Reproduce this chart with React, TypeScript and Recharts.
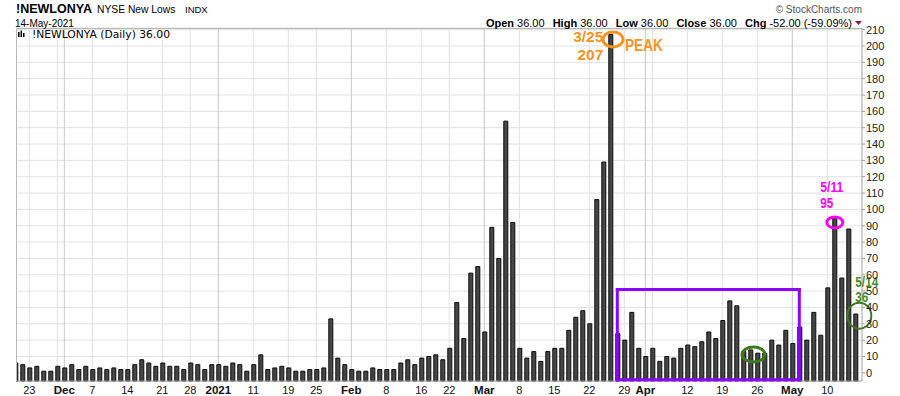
import React from 'react'
import { BarChart, Bar, XAxis, YAxis, CartesianGrid, ReferenceLine, ReferenceDot } from 'recharts'

// trading days per month, Nov 2020 .. May 2021
const novDays = [19, 20, 23, 24, 25, 27, 30]
const decDays = [1, 2, 3, 4, 7, 8, 9, 10, 11, 14, 15, 16, 17, 18, 21, 22, 23, 24, 28, 29, 30, 31]
const janDays = [4, 5, 6, 7, 8, 11, 12, 13, 14, 15, 19, 20, 21, 22, 25, 26, 27, 28, 29]
const febDays = [1, 2, 3, 4, 5, 8, 9, 10, 11, 12, 16, 17, 18, 19, 22, 23, 24, 25, 26]
const marDays = [1, 2, 3, 4, 5, 8, 9, 10, 11, 12, 15, 16, 17, 18, 19, 22, 23, 24, 25, 26, 29, 30, 31]
const aprDays = [1, 5, 6, 7, 8, 9, 12, 13, 14, 15, 16, 19, 20, 21, 22, 23, 26, 27, 28, 29, 30]
const mayDays = [3, 4, 5, 6, 7, 10, 11, 12, 13, 14]

// NYSE new lows, one value per trading day
const newLows = [
  6, 5, 3, 4, 1, 1, 4,
  3, 5, 2, 4, 2, 3, 2, 3, 2, 2, 5, 8, 6, 4, 6, 4, 4, 2, 6, 5, 2, 5,
  5, 4, 6, 5, 1, 5, 11, 2, 3, 4, 3, 1, 1, 2, 2, 3, 33, 9, 5,
  2, 1, 1, 3, 2, 2, 2, 6, 8, 5, 9, 10, 11, 8, 15, 43, 21, 61, 65,
  25, 89, 70, 154, 92, 15, 9, 13, 7, 13, 15, 15, 26, 34, 38, 30, 106, 129, 207, 24, 20, 37, 15,
  10, 15, 7, 10, 9, 15, 17, 16, 19, 25, 21, 32, 44, 41, 13, 14, 12, 12, 20, 17, 26,
  18, 28, 20, 37, 23, 52, 95, 58, 88, 36,
]

const tickDays = ['11/23', '12/1', '12/7', '12/14', '12/21', '12/28', '1/4', '1/11', '1/19', '1/25', '2/1', '2/8', '2/16', '2/22', '3/1', '3/8', '3/15', '3/22', '3/29', '4/1', '4/12', '4/19', '4/26', '5/3', '5/10']
const tickText = ['23', 'Dec', '7', '14', '21', '28', '2021', '11', '19', '25', 'Feb', '8', '16', '22', 'Mar', '8', '15', '22', '29', 'Apr', '12', '19', '26', 'May', '10']
const boldTicks = ['Dec', '2021', 'Feb', 'Mar', 'Apr', 'May']

const weekLines = ['11/23', '11/30', '12/7', '12/14', '12/21', '12/28', '1/11', '1/19', '1/25', '2/8', '2/16', '2/22', '3/8', '3/15', '3/22', '3/29', '4/5', '4/12', '4/19', '4/26', '5/10']
const monthLines = ['12/1', '1/4', '2/1', '3/1', '4/1', '5/3']

const yTicks = [0, 10, 20, 30, 40, 50, 60, 70, 80, 90, 100, 110, 120, 130, 140, 150, 160, 170, 180, 190, 200, 210]
const Y_MIN = -5
const Y_MAX = 211

const months: [number, number[]][] = [
  [11, novDays], [12, decDays], [1, janDays], [2, febDays], [3, marDays], [4, aprDays], [5, mayDays],
]
const days = months.flatMap(([m, ds]) => ds.map((d) => `${m}/${d}`))
const rows = days.map((day, i) => ({ day, v: newLows[i], range: [Y_MIN, newLows[i]] }))

// annotation box (purple)
const boxFrom = '3/26'
const boxTo = '5/4'
const boxTop = 51
const boxBottom = -4.3

const ORANGE = '#f7941d'
const PURPLE = '#9000ff'
const MAGENTA = '#ff00ff'
const GREEN = '#4e8a2e'
const GREEN_DARK = '#3c7a20'

function DayTick(props: any) {
  const { x, y, payload } = props
  const label = tickText[tickDays.indexOf(payload.value)]
  const bold = boldTicks.includes(label)
  return (
    <text x={x} y={y + 11} textAnchor="middle" fontSize={bold ? 11.5 : 11} fontWeight={bold ? 700 : 400} fill="#111">
      {label}
    </text>
  )
}

const boldNarrow = { fontWeight: 700, fontSize: 15, fontFamily: '"Liberation Sans Narrow", "Liberation Sans", Arial, sans-serif' }

export default function App() {
  return (
    <div style={{ position: 'absolute', left: 0, top: 0, width: 900, height: 396, background: '#fff', fontFamily: '"Liberation Sans", Arial, sans-serif' }}>
      <BarChart width={900} height={396} data={rows} margin={{ top: 28, right: 0, bottom: 0, left: 16 }} barCategoryGap={0}>
        <CartesianGrid vertical={false} stroke="#e2e2e2" />
        {weekLines.map((d) => (
          <ReferenceLine key={'w' + d} x={d} stroke="#e2e2e2" zIndex={-10} />
        ))}
        {monthLines.map((d) => (
          <ReferenceLine key={'m' + d} x={d} stroke="#c6c6c6" zIndex={-10} />
        ))}
        <XAxis
          dataKey="day"
          ticks={tickDays}
          interval={0}
          tickLine={false}
          tickSize={0}
          axisLine={{ stroke: '#a0a0a0' }}
          height={15}
          padding={{ left: -4.2, right: 3.2 }}
          tick={<DayTick />}
        />
        <YAxis
          orientation="right"
          domain={[Y_MIN, Y_MAX]}
          ticks={yTicks}
          interval={0}
          width={38}
          tickSize={3}
          tickMargin={1}
          axisLine={{ stroke: '#a0a0a0' }}
          tickLine={{ stroke: '#a0a0a0' }}
          tick={{ fontSize: 11, fill: '#222', textAnchor: 'start' }}
        />
        <Bar dataKey="range" barSize={4} fill="#464646" stroke="#0a0a0a" strokeWidth={1} isAnimationActive={false} />

        {/* purple box */}
        <ReferenceLine segment={[{ x: boxFrom, y: boxTop }, { x: boxTo, y: boxTop }]} stroke={PURPLE} strokeWidth={3} strokeLinecap="square" zIndex={1500} />
        <ReferenceLine segment={[{ x: boxFrom, y: boxBottom }, { x: boxTo, y: boxBottom }]} stroke={PURPLE} strokeWidth={3} strokeLinecap="square" zIndex={1500} />
        <ReferenceLine segment={[{ x: boxFrom, y: boxBottom }, { x: boxFrom, y: boxTop }]} stroke={PURPLE} strokeWidth={3} strokeLinecap="square" zIndex={1500} />
        <ReferenceLine segment={[{ x: boxTo, y: boxBottom }, { x: boxTo, y: boxTop }]} stroke={PURPLE} strokeWidth={3} strokeLinecap="square" zIndex={1500} />

        {/* peak 3/25 */}
        <ReferenceDot
          x="3/25"
          y={204}
          zIndex={1600}
          shape={(p: any) => (
            <g>
              <ellipse cx={p.cx + 2.7} cy={p.cy} rx={10} ry={7.5} fill="none" stroke={ORANGE} strokeWidth={3} />
              <text x={p.cx - 7} y={p.cy + 2.5} textAnchor="end" fill={ORANGE} fontWeight={700} fontSize={15.5}>3/25</text>
              <text x={p.cx - 7} y={p.cy + 20.5} textAnchor="end" fill={ORANGE} fontWeight={700} fontSize={15.5}>207</text>
              <text x={p.cx + 14.7} y={p.cy + 11.5} fill={ORANGE} fontWeight={700} fontSize={17} textLength={38} lengthAdjust="spacingAndGlyphs">PEAK</text>
            </g>
          )}
        />
        {/* 5/11 */}
        <ReferenceDot
          x="5/11"
          y={92}
          zIndex={1600}
          shape={(p: any) => (
            <g>
              <ellipse cx={p.cx + 0.5} cy={p.cy} rx={8} ry={5.5} fill="none" stroke={MAGENTA} strokeWidth={3} />
              <text x={p.cx - 14} y={p.cy - 30.5} fill={MAGENTA} style={boldNarrow} textLength={23} lengthAdjust="spacingAndGlyphs">5/11</text>
              <text x={p.cx - 14} y={p.cy - 14.5} fill={MAGENTA} style={boldNarrow} textLength={13} lengthAdjust="spacingAndGlyphs">95</text>
            </g>
          )}
        />
        {/* 5/14 */}
        <ReferenceDot
          x="5/14"
          y={35}
          zIndex={1600}
          shape={(p: any) => (
            <g>
              <ellipse cx={p.cx + 4} cy={p.cy} rx={12} ry={13} fill="none" stroke={GREEN_DARK} strokeWidth={2} />
              <text x={p.cx} y={p.cy - 28.6} fill={GREEN} style={boldNarrow} textLength={23} lengthAdjust="spacingAndGlyphs">5/14</text>
              <text x={p.cx} y={p.cy - 13.6} fill={GREEN} style={boldNarrow} textLength={13} lengthAdjust="spacingAndGlyphs">36</text>
            </g>
          )}
        />
        {/* April low */}
        <ReferenceDot
          x="4/23"
          y={11.2}
          zIndex={1600}
          shape={(p: any) => (
            <ellipse cx={p.cx + 3.2} cy={p.cy} rx={11.5} ry={7.5} fill="none" stroke={GREEN_DARK} strokeWidth={3} />
          )}
        />
      </BarChart>

      <svg width={900} height={396} style={{ position: 'absolute', left: 0, top: 0, pointerEvents: 'none' }}>
        <rect x={0} y={28} width={16} height={354} fill="#fff" />
        <line x1={16.5} y1={28.5} x2={862} y2={28.5} stroke="#b8b8b8" />
        <line x1={16.5} y1={28.5} x2={16.5} y2={381} stroke="#b8b8b8" />

        <text x={16} y={12.5} fontSize={13} fontWeight={700} fill="#000" textLength={76} lengthAdjust="spacingAndGlyphs">!NEWLONYA</text>
        <text x={97} y={12.5} fontSize={10.3} fill="#000">NYSE New Lows</text>
        <text x={185} y={12.5} fontSize={9.5} fill="#000">INDX</text>
        <text x={15} y={26.5} fontSize={10} fill="#000">14-May-2021</text>

        <rect x={18} y={32} width={1.5} height={5} fill="#000" />
        <rect x={20.5} y={30.5} width={1.5} height={6.5} fill="#000" />
        <rect x={23} y={33} width={1.5} height={4} fill="#000" />
        <text x={32} y={38} fontSize={10} fill="#000" fontFamily='"DejaVu Sans", Verdana, sans-serif' textLength={138} lengthAdjust="spacingAndGlyphs">!NEWLONYA (Daily) 36.00</text>

        <text x={862} y={13} fontSize={10} fill="#555" textAnchor="end">© StockCharts.com</text>
        <text x={852} y={26.5} fontSize={11} fill="#000" textAnchor="end">
          <tspan fontWeight={700}>Open</tspan> 36.00 <tspan fontWeight={700} dx={5}>High</tspan> 36.00 <tspan fontWeight={700} dx={5}>Low</tspan> 36.00 <tspan fontWeight={700} dx={5}>Close</tspan> 36.00 <tspan fontWeight={700} dx={5}>Chg</tspan> -52.00 (-59.09%)
        </text>
        <polygon points="855,21 862,21 858.5,25" fill="#8b1c3c" />
      </svg>
    </div>
  )
}
